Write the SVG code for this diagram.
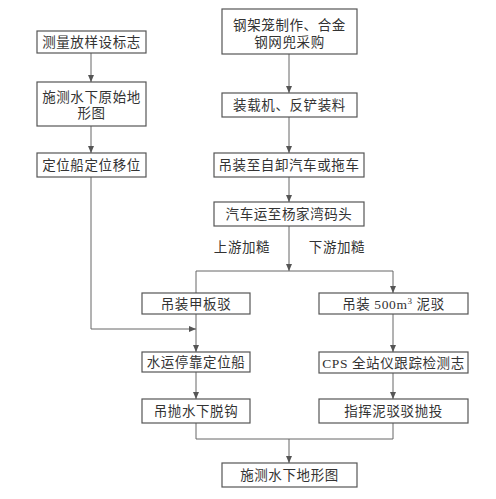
<svg xmlns="http://www.w3.org/2000/svg" width="496" height="499" viewBox="0 0 496 499">
<style>
.box{fill:#fff;stroke:#555;stroke-width:1.2}
.t{font-family:"Liberation Serif","Noto Sans CJK SC",serif;font-size:13.5px;fill:#333;text-anchor:middle;letter-spacing:0.6px}
.c{fill:none;stroke:#666;stroke-width:1}
</style>
<defs>
<marker id="a" markerWidth="8" markerHeight="8" refX="7" refY="3" orient="auto" markerUnits="userSpaceOnUse">
<path d="M0,0 L7,3 L0,6 Z" fill="#555"/>
</marker>
</defs>
<rect width="496" height="499" fill="#fff"/>
<g id="connectors">
<line class="c" x1="91" y1="53" x2="91" y2="82" marker-end="url(#a)"/>
<line class="c" x1="91" y1="126" x2="91" y2="153" marker-end="url(#a)"/>
<polyline class="c" points="91,177 91,329 196,329" marker-end="url(#a)"/>
<line class="c" x1="289" y1="54" x2="289" y2="93" marker-end="url(#a)"/>
<line class="c" x1="289" y1="117" x2="289" y2="153" marker-end="url(#a)"/>
<line class="c" x1="289" y1="177" x2="289" y2="202" marker-end="url(#a)"/>
<line class="c" x1="289" y1="226" x2="289" y2="271" marker-end="url(#a)"/>
<polyline class="c" points="196,293 196,271 393,271 393,293" marker-end="url(#a)"/>
<line class="c" x1="196" y1="314" x2="196" y2="352" marker-end="url(#a)"/>
<line class="c" x1="393" y1="314" x2="393" y2="352" marker-end="url(#a)"/>
<line class="c" x1="196" y1="372" x2="196" y2="399" marker-end="url(#a)"/>
<line class="c" x1="393" y1="373" x2="393" y2="399" marker-end="url(#a)"/>
<polyline class="c" points="196,423 196,439 393,439 393,423"/>
<line class="c" x1="289" y1="439" x2="289" y2="463" marker-end="url(#a)"/>
</g>
<g id="n1"><rect class="box" x="37" y="31" width="109" height="22"/><text class="t" x="91.5" y="47">测量放样设标志</text></g>
<g id="n2"><rect class="box" x="37" y="82" width="109" height="44"/><text class="t" x="91.5" y="102">施测水下原始地</text><text class="t" x="91.5" y="118">形图</text></g>
<g id="n3"><rect class="box" x="37" y="153" width="109" height="24"/><text class="t" x="91.5" y="170">定位船定位移位</text></g>
<g id="n4"><rect class="box" x="222" y="9" width="135" height="45"/><text class="t" x="289.5" y="30">钢架笼制作、合金</text><text class="t" x="289.5" y="47">钢网兜采购</text></g>
<g id="n5"><rect class="box" x="222" y="93" width="135" height="24"/><text class="t" x="289.5" y="110">装载机、反铲装料</text></g>
<g id="n6"><rect class="box" x="214" y="153" width="150" height="24"/><text class="t" x="289" y="170">吊装至自卸汽车或拖车</text></g>
<g id="n7"><rect class="box" x="214" y="202" width="150" height="24"/><text class="t" x="289" y="219">汽车运至杨家湾码头</text></g>
<g id="l1"><text class="t" x="242" y="252">上游加糙</text></g>
<g id="l2"><text class="t" x="337" y="252">下游加糙</text></g>
<g id="n8"><rect class="box" x="142" y="293" width="108" height="21"/><text class="t" x="196" y="309">吊装甲板驳</text></g>
<g id="n9"><rect class="box" x="319" y="293" width="149" height="21"/><text class="t" x="393.5" y="309">吊装 500m<tspan font-size="9" dy="-5">3</tspan><tspan dy="5"> 泥驳</tspan></text></g>
<g id="n10"><rect class="box" x="142" y="352" width="108" height="20"/><text class="t" x="196" y="367">水运停靠定位船</text></g>
<g id="n11"><rect class="box" x="319" y="352" width="149" height="21"/><text class="t" x="393.5" y="368">CPS 全站仪跟踪检测志</text></g>
<g id="n12"><rect class="box" x="142" y="399" width="108" height="24"/><text class="t" x="196" y="416">吊抛水下脱钩</text></g>
<g id="n13"><rect class="box" x="319" y="399" width="149" height="24"/><text class="t" x="393.5" y="416">指挥泥驳驳抛投</text></g>
<g id="n14"><rect class="box" x="222" y="463" width="135" height="24"/><text class="t" x="289.5" y="480">施测水下地形图</text></g>
</svg>
